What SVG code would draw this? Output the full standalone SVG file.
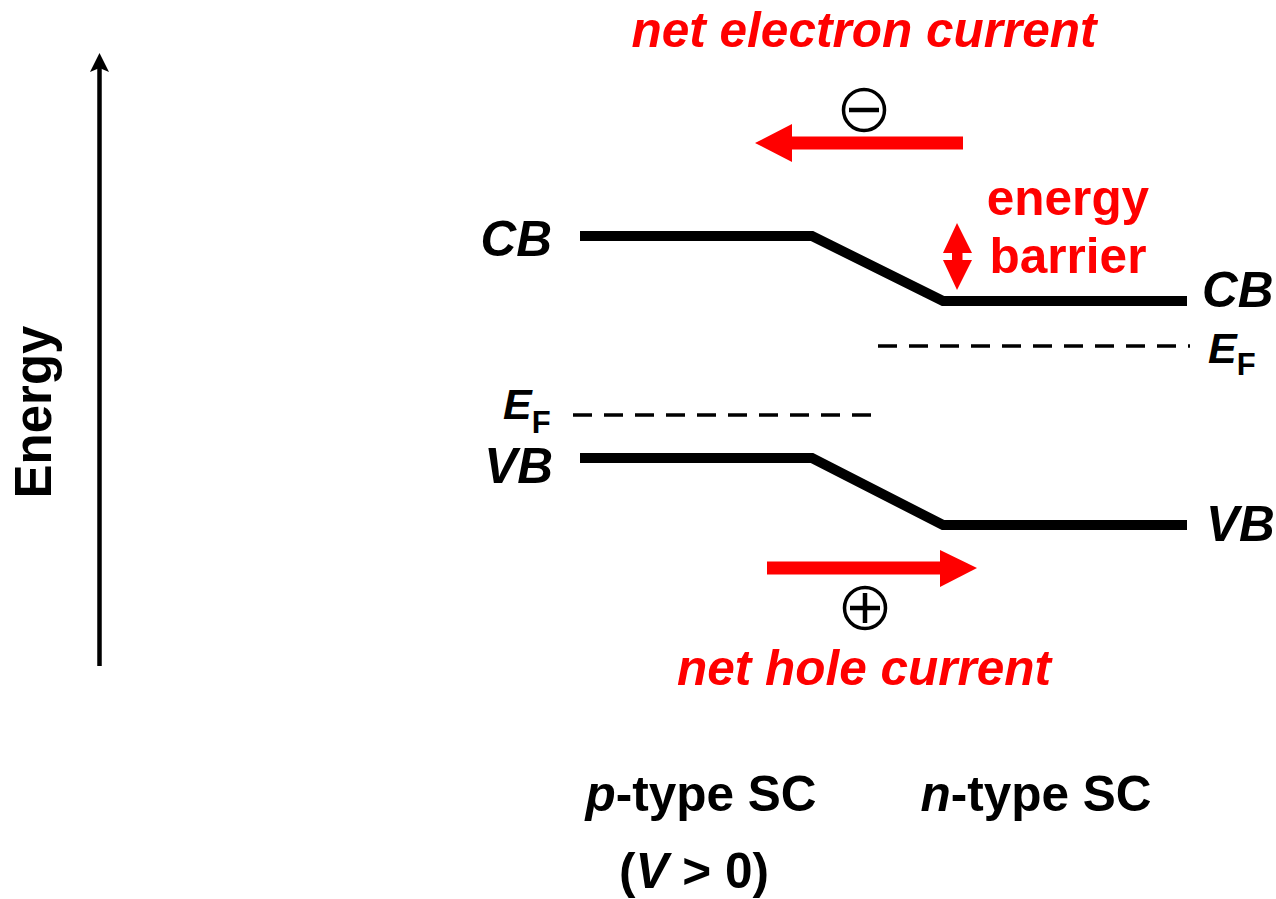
<svg xmlns="http://www.w3.org/2000/svg" width="1276" height="899" viewBox="0 0 1276 899">
<style>
text{font-family:"Liberation Sans",Arial,sans-serif;font-weight:bold}
.lbl{font-size:49.5px;fill:#000}
.it{font-style:italic}
.red{fill:#ff0000}
.band{fill:none;stroke:#000;stroke-width:10;stroke-linejoin:miter}
.fermi{fill:none;stroke:#000;stroke-width:3.5;stroke-dasharray:19 12}
.sym{fill:none;stroke:#000;stroke-width:3.5}
</style>
<rect width="1276" height="899" fill="#fff"/>
<g id="axis">
<line x1="99.5" y1="666" x2="99.5" y2="66" stroke="#000" stroke-width="4.5"/>
<polygon points="99.5,53 90,72 99.5,68 109,72" fill="#000"/>
<text class="lbl" transform="translate(51,412) rotate(-90)" text-anchor="middle" style="font-size:51px">Energy</text>
</g>
<g id="connectors">
<polyline id="cb" class="band" points="580,236 812,236 943,301 1187,301"/>
<polyline id="vb" class="band" points="580,458 812,458 943,525 1187,525"/>
<line id="ef-left" class="fermi" x1="570" y1="415" x2="880" y2="415" stroke-dasharray="19 12" stroke-dashoffset="-3"/>
<line id="ef-right" class="fermi" x1="878" y1="346" x2="1190" y2="346"/>
</g>
<g id="electron-current">
<text class="lbl red it" x="864" y="47" text-anchor="middle">net electron current</text>
<rect x="790" y="136.5" width="173" height="13" fill="#ff0000"/>
<polygon points="755,143 792,124 792,162" fill="#ff0000"/>
<circle class="sym" cx="864" cy="110" r="20.5"/>
<line x1="849" y1="110" x2="879" y2="110" stroke="#000" stroke-width="4.5"/>
</g>
<g id="hole-current">
<text class="lbl red it" x="864" y="685" text-anchor="middle">net hole current</text>
<rect x="767" y="561.5" width="175" height="13" fill="#ff0000"/>
<polygon points="977,568 940,550 940,587" fill="#ff0000"/>
<circle class="sym" cx="865" cy="608" r="20.5"/>
<line x1="850" y1="608" x2="880" y2="608" stroke="#000" stroke-width="4.5"/>
<line x1="865" y1="593" x2="865" y2="623" stroke="#000" stroke-width="4.5"/>
</g>
<g id="energy-barrier">
<polygon points="957,223 943,253 972,253" fill="#ff0000"/>
<rect x="952" y="252" width="10.5" height="9" fill="#ff0000"/>
<polygon points="943,260 972,260 957,290" fill="#ff0000"/>
<text class="lbl red" x="1068" y="215" text-anchor="middle">energy</text>
<text class="lbl red" x="1068" y="273" text-anchor="middle">barrier</text>
</g>
<g id="labels-left">
<text class="lbl it" x="552" y="256" text-anchor="end">CB</text>
<text class="lbl it" x="553" y="483" text-anchor="end">VB</text>
<text class="it" x="503" y="419" font-size="43">E<tspan font-style="normal" font-size="31" dy="14">F</tspan></text>
</g>
<g id="labels-right">
<text class="lbl it" x="1202" y="307">CB</text>
<text class="lbl it" x="1206" y="541">VB</text>
<text class="it" x="1208" y="363" font-size="43">E<tspan font-style="normal" font-size="31" dy="12">F</tspan></text>
</g>
<g id="p-type">
<text class="lbl" x="701" y="811" text-anchor="middle"><tspan class="it">p</tspan>-type SC</text>
<text class="lbl" x="694" y="888" text-anchor="middle">(<tspan class="it">V</tspan> &gt; 0)</text>
</g>
<g id="n-type">
<text class="lbl" x="1036" y="811" text-anchor="middle"><tspan class="it">n</tspan>-type SC</text>
</g>
</svg>
